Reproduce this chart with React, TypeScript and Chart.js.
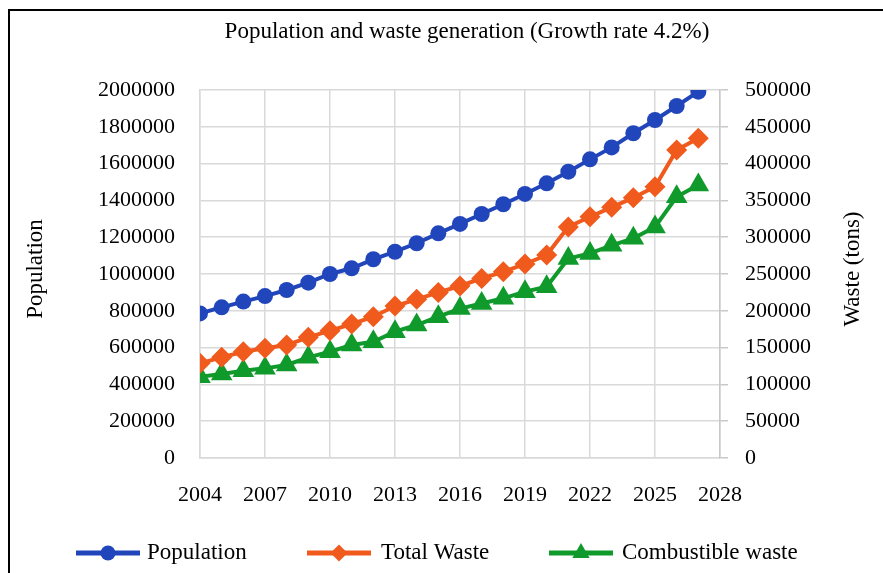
import React, { useEffect, useRef } from 'react';
import { Chart, registerables } from 'chart.js';

Chart.register(...registerables);

const years = [2004, 2005, 2006, 2007, 2008, 2009, 2010, 2011, 2012, 2013, 2014, 2015, 2016, 2017, 2018, 2019, 2020, 2021, 2022, 2023, 2024, 2025, 2026, 2027];
const population = [786000, 819000, 850000, 880000, 913000, 953000, 1000000, 1031000, 1080000, 1121000, 1167000, 1221000, 1272000, 1326000, 1379000, 1435000, 1493000, 1556000, 1623000, 1688000, 1765000, 1837000, 1913000, 1991000];
const totalWaste = [128700, 136800, 144400, 149000, 153500, 164000, 173000, 182000, 192000, 206500, 215600, 225000, 233700, 244000, 253000, 263600, 275800, 314000, 327800, 340600, 353700, 368600, 418500, 434400];
const combustibleWaste = [110500, 114000, 118600, 121800, 126400, 136800, 144400, 153500, 158000, 171600, 180700, 192000, 203000, 210000, 217000, 226000, 232700, 271000, 278000, 289000, 298500, 314000, 355000, 371000];

const seriesNames = ['Population', 'Total Waste', 'Combustible waste'];
const chartTitle = 'Population and waste generation (Growth rate 4.2%)';
const leftAxisTitle = 'Population';
const rightAxisTitle = 'Waste (tons)';

const BLUE = '#2146bb';
const ORANGE = '#f05a1c';
const GREEN = '#109a2c';
const GRID = '#d9d9d9';
const FONT = "'Liberation Serif', 'Times New Roman', serif";

const toPoints = (vals: number[]) => vals.map((v, i) => ({ x: years[i], y: v }));

function drawMarker(ctx: CanvasRenderingContext2D, kind: string, x: number, y: number, r: number) {
  ctx.beginPath();
  if (kind === 'circle') {
    ctx.arc(x, y, r, 0, Math.PI * 2);
  } else if (kind === 'rectRot') {
    ctx.moveTo(x, y - r);
    ctx.lineTo(x + r, y);
    ctx.lineTo(x, y + r);
    ctx.lineTo(x - r, y);
    ctx.closePath();
  } else {
    ctx.moveTo(x, y - r);
    ctx.lineTo(x + r * 0.866, y + r * 0.5);
    ctx.lineTo(x - r * 0.866, y + r * 0.5);
    ctx.closePath();
  }
  ctx.fill();
}

const extrasPlugin = {
  id: 'extras',
  afterDraw(chart: any) {
    const ctx: CanvasRenderingContext2D = chart.ctx;
    ctx.save();
    // frame
    ctx.strokeStyle = '#000';
    ctx.lineWidth = 2;
    ctx.beginPath();
    ctx.moveTo(9, 573);
    ctx.lineTo(9, 10);
    ctx.lineTo(883, 10);
    ctx.stroke();

    ctx.fillStyle = '#000';
    ctx.textAlign = 'center';
    ctx.textBaseline = 'middle';

    // title
    ctx.font = `23px ${FONT}`;
    ctx.fillText(chartTitle, 467, 32);

    // axis titles
    ctx.save();
    ctx.translate(36, 269);
    ctx.rotate(-Math.PI / 2);
    ctx.fillText(leftAxisTitle, 0, 0);
    ctx.restore();
    ctx.save();
    ctx.translate(853, 269);
    ctx.rotate(-Math.PI / 2);
    ctx.fillText(rightAxisTitle, 0, 0);
    ctx.restore();

    // legend
    const items = [
      { x0: 76, tx: 147, color: BLUE, kind: 'circle', r: 7.5 },
      { x0: 307, tx: 381, color: ORANGE, kind: 'rectRot', r: 8.5 },
      { x0: 549, tx: 622, color: GREEN, kind: 'triangle', r: 10 },
    ];
    const ly = 553;
    items.forEach((it, i) => {
      ctx.strokeStyle = it.color;
      ctx.fillStyle = it.color;
      ctx.lineWidth = 5;
      ctx.beginPath();
      ctx.moveTo(it.x0, ly);
      ctx.lineTo(it.x0 + 64, ly);
      ctx.stroke();
      drawMarker(ctx, it.kind, it.x0 + 32, ly, it.r);
      ctx.fillStyle = '#000';
      ctx.textAlign = 'left';
      ctx.textBaseline = 'middle';
      ctx.fillText(seriesNames[i], it.tx, ly);
    });
    ctx.restore();
  },
};

export default function App() {
  const ref = useRef<HTMLCanvasElement>(null);
  useEffect(() => {
    if (!ref.current) return;
    const chart = new Chart(ref.current, {
      type: 'line',
      data: {
        datasets: [
          {
            label: seriesNames[0],
            data: toPoints(population),
            yAxisID: 'y',
            borderColor: BLUE,
            backgroundColor: BLUE,
            borderWidth: 4,
            pointStyle: 'circle',
            pointRadius: 8,
            pointBorderWidth: 0,
          },
          {
            label: seriesNames[1],
            data: toPoints(totalWaste),
            yAxisID: 'y1',
            borderColor: ORANGE,
            backgroundColor: ORANGE,
            borderWidth: 4,
            pointStyle: 'rectRot',
            pointRadius: 10.5,
            pointBorderWidth: 0,
          },
          {
            label: seriesNames[2],
            data: toPoints(combustibleWaste),
            yAxisID: 'y1',
            borderColor: GREEN,
            backgroundColor: GREEN,
            borderWidth: 4,
            pointStyle: 'triangle',
            pointRadius: 12.5,
            pointBorderWidth: 0,
          },
        ],
      },
      options: {
        animation: false,
        responsive: false,
        devicePixelRatio: 1,
        layout: { padding: { top: 90, left: 0, right: 0, bottom: 0 } },
        plugins: {
          legend: { display: false },
          tooltip: { enabled: false },
          title: { display: false },
        },
        scales: {
          x: {
            type: 'linear',
            min: 2004,
            max: 2028,
            afterFit: (s: any) => { s.height = 115; },
            ticks: {
              stepSize: 3,
              color: '#000',
              font: { family: FONT, size: 22 },
              padding: 24,
              callback: (v: any) => String(v),
            },
            grid: { color: GRID, lineWidth: 1.5, drawTicks: false },
            border: { color: GRID, width: 1.5 },
          },
          y: {
            position: 'left',
            min: 0,
            max: 2000000,
            afterFit: (s: any) => { s.width = 200; },
            ticks: {
              stepSize: 200000,
              color: '#000',
              font: { family: FONT, size: 22 },
              padding: 25,
              callback: (v: any) => String(v),
            },
            grid: { color: GRID, lineWidth: 1.5, drawTicks: false },
            border: { color: GRID, width: 1.5 },
          },
          y1: {
            position: 'right',
            min: 0,
            max: 500000,
            afterFit: (s: any) => { s.width = 163; },
            ticks: {
              stepSize: 50000,
              color: '#000',
              font: { family: FONT, size: 22 },
              padding: 17,
              callback: (v: any) => String(v),
            },
            grid: { drawOnChartArea: false, color: '#c8c8c8', lineWidth: 1.5, drawTicks: true, tickLength: 8 },
            border: { color: '#c8c8c8', width: 1.5 },
          },
        },
      },
      plugins: [extrasPlugin],
    } as any);
    return () => chart.destroy();
  }, []);
  return (
    <div style={{ position: 'absolute', left: 0, top: 0, width: 883, height: 573, background: '#fff' }}>
      <canvas ref={ref} width={883} height={573} />
    </div>
  );
}
